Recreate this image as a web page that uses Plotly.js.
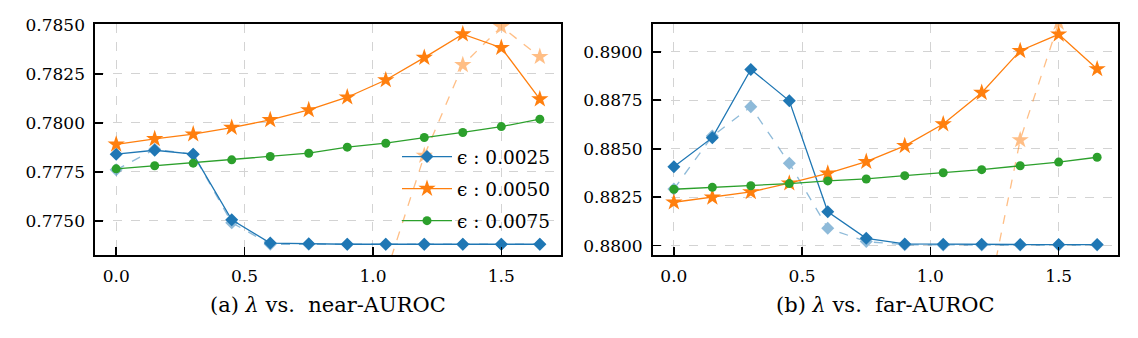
<!DOCTYPE html>
<html>
<head>
<meta charset="utf-8">
<script src="https://cdn.plot.ly/plotly-3.0.1.min.js"></script>
<style>
  html, body { margin: 0; padding: 0; background: #fff; }
  #plot { width: 1138px; height: 338px; }
</style>
</head>
<body>
<div id="plot"></div>
<script>
// lambda values on the x axis
const lambdas = [0, 0.15, 0.3, 0.45, 0.6, 0.75, 0.9, 1.05, 1.2, 1.35, 1.5, 1.65];
const seriesNames = ['ϵ : 0.0025', 'ϵ : 0.0050', 'ϵ : 0.0075'];

// (a) near-AUROC
const nearEps1 = [0.7784, 0.7786, 0.7784, 0.77505, 0.77386, 0.77382, 0.7738, 0.7738, 0.7738, 0.7738, 0.7738, 0.7738];
const nearEps2 = [0.7789, 0.77918, 0.77942, 0.77976, 0.78015, 0.78066, 0.78131, 0.78219, 0.78333, 0.78453, 0.78384, 0.78121];
const nearEps3 = [0.77765, 0.77781, 0.77794, 0.77811, 0.77828, 0.77845, 0.77876, 0.77896, 0.77925, 0.77951, 0.77981, 0.78019];
// faint dashed runs
const nearEps1Faint = [0.7776, 0.77865, 0.7784, 0.7749, 0.7738, 0.7738, 0.7738, 0.7738, 0.7738, 0.7738, 0.7738, 0.7738];
const nearEps2FaintX = [1.05, 1.2, 1.35, 1.5, 1.65];
const nearEps2Faint = [0.77226, 0.77833, 0.78296, 0.78491, 0.78338];

// (b) far-AUROC
const farEps1 = [0.88407, 0.88557, 0.88909, 0.88747, 0.88175, 0.88038, 0.88009, 0.88007, 0.88007, 0.88006, 0.88006, 0.88006];
const farEps2 = [0.88224, 0.88249, 0.88277, 0.88322, 0.88373, 0.88433, 0.88515, 0.88627, 0.88789, 0.89005, 0.8909, 0.88911];
const farEps3 = [0.88291, 0.88301, 0.88309, 0.8832, 0.88334, 0.88344, 0.88361, 0.88376, 0.88392, 0.88412, 0.88431, 0.88456];
const farEps1Faint = [0.88292, 0.88565, 0.88716, 0.88425, 0.8809, 0.88021, 0.88005, 0.88003, 0.88003, 0.88003, 0.88003, 0.88003];
const farEps2FaintX = [1.2, 1.35, 1.5, 1.65];
const farEps2Faint = [0.87567, 0.88545, 0.8915, 0.8950];

const colors = ['#1f77b4', '#ff7f0e', '#2ca02c'];
const symbols = ['diamond', 'star', 'circle'];
const sizes = [10, 13, 9];
const FONT = '"DejaVu Serif", "Liberation Serif", serif';

function solid(x, y, i, xa, ya, legend) {
    return {
        x: x, y: y, xaxis: xa, yaxis: ya,
        type: 'scatter', mode: 'lines+markers',
        name: seriesNames[i],
        legendgroup: 'g' + i,
        showlegend: legend,
        line: { color: colors[i], width: 1.3 },
        marker: { symbol: symbols[i], size: sizes[i], color: colors[i] },
        hoverinfo: 'x+y'
    };
}

function faint(x, y, i, xa, ya) {
    return {
        x: x, y: y, xaxis: xa, yaxis: ya,
        type: 'scatter', mode: 'lines+markers',
        showlegend: false,
        opacity: 0.5,
        line: { color: colors[i], width: 1.3, dash: 'dash' },
        marker: { symbol: symbols[i], size: sizes[i], color: colors[i] },
        hoverinfo: 'x+y'
    };
}

const data = [
    faint(lambdas, nearEps1Faint, 0, 'x', 'y'),
    faint(nearEps2FaintX, nearEps2Faint, 1, 'x', 'y'),
    solid(lambdas, nearEps1, 0, 'x', 'y', true),
    solid(lambdas, nearEps2, 1, 'x', 'y', true),
    solid(lambdas, nearEps3, 2, 'x', 'y', true),
    faint(lambdas, farEps1Faint, 0, 'x2', 'y2'),
    faint(farEps2FaintX, farEps2Faint, 1, 'x2', 'y2'),
    solid(lambdas, farEps1, 0, 'x2', 'y2', false),
    solid(lambdas, farEps2, 1, 'x2', 'y2', false),
    solid(lambdas, farEps3, 2, 'x2', 'y2', false)
];

const W = 1138, H = 338;
const axisCommon = {
    showline: true, mirror: true, linecolor: '#000', linewidth: 1.6,
    ticks: 'inside', ticklen: 8, tickwidth: 1.6, tickcolor: '#000',
    showgrid: true, gridcolor: '#d3d3d3', gridwidth: 1, griddash: 'dash',
    zeroline: false,
    tickfont: { family: FONT, size: 17, color: '#000' },
    ticklabelstandoff: 5
};
const xCommon = Object.assign({}, axisCommon, {
    range: [-0.0825, 1.7325], tickvals: [0, 0.5, 1.0, 1.5], ticktext: ['0.0', '0.5', '1.0', '1.5']
});
const yDom = [1 - 255 / H, 1 - 24 / H];

const layout = {
    width: W, height: H,
    margin: { l: 0, r: 0, t: 0, b: 0 },
    paper_bgcolor: '#fff', plot_bgcolor: '#fff',
    showlegend: true,
    xaxis: Object.assign({}, xCommon, { domain: [95 / W, 561 / W], anchor: 'y' }),
    yaxis: Object.assign({}, axisCommon, {
        domain: yDom, anchor: 'x', range: [0.77325, 0.78505],
        tickvals: [0.775, 0.7775, 0.78, 0.7825, 0.785], tickformat: '.4f'
    }),
    xaxis2: Object.assign({}, xCommon, { domain: [652.7 / W, 1118.3 / W], anchor: 'y2' }),
    yaxis2: Object.assign({}, axisCommon, {
        domain: yDom, anchor: 'x2', range: [0.87952, 0.89143],
        tickvals: [0.88, 0.8825, 0.885, 0.8875, 0.89], tickformat: '.4f'
    }),
    legend: {
        x: 556 / W, xanchor: 'right', y: 1 - 138 / H, yanchor: 'top',
        bgcolor: 'rgba(0,0,0,0)', borderwidth: 0,
        font: { family: FONT, size: 18.5, color: '#000' },
        traceorder: 'grouped', tracegroupgap: 5, itemwidth: 50
    },
    annotations: [
        { text: '(a) <i>λ</i> vs.  near-AUROC', xref: 'paper', yref: 'paper',
          x: 328 / W, y: 1 - 305 / H, xanchor: 'center', yanchor: 'middle', showarrow: false,
          font: { family: FONT, size: 21, color: '#000' } },
        { text: '(b) <i>λ</i> vs.  far-AUROC', xref: 'paper', yref: 'paper',
          x: 885.5 / W, y: 1 - 305 / H, xanchor: 'center', yanchor: 'middle', showarrow: false,
          font: { family: FONT, size: 21, color: '#000' } }
    ]
};

Plotly.newPlot('plot', data, layout, { displayModeBar: false, staticPlot: true });
</script>
</body>
</html>
